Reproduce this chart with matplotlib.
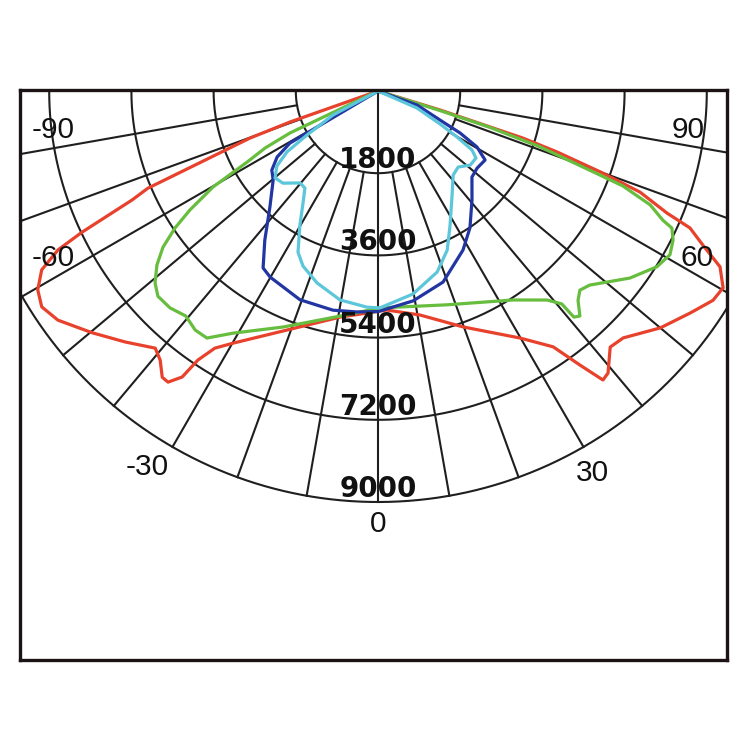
import numpy as np
import matplotlib
matplotlib.use("Agg")
import matplotlib.pyplot as plt

# ---------------- data (angle in degrees from nadir, + to the right; intensity in cd) ----------
ring_values = [1800, 3600, 5400, 7200, 9000]
ring_labels = ["1800", "3600", "5400", "7200", "9000"]
spoke_angles = list(range(-80, 90, 10))
angle_labels = ["-90", "-60", "-30", "0", "30", "60", "90"]

red_angle = [-73, -70.6, -69.8, -67.1, -66.1, -64.5, -63.6, -62.0, -59.7, -57.3, -54.4,
             -49.8, -45.2, -40.9, -39.0, -37.0, -35.8, -34.4, -33.8, -32.4, -29.9, -18.3,
             -9.5, 2.3, 10.6, 19.8, 29.9, 34.4, 36.4, 37.9, 39.2, 42.2, 44.8, 50.0, 54.6,
             58.0, 60.3, 62.8, 64.6, 66.3, 67.1, 68.9, 70.0, 71.2, 72.0, 72.2, 73.0, 73]
red_cd = [0, 2040, 2990, 5470, 5890, 7180, 7820, 8340, 8630, 8750, 8620,
          8200, 7800, 7450, 7580, 7850, 7860, 7590, 7090, 6670, 6370, 5440,
          5020, 4800, 4990, 5490, 6240, 6790, 7460, 8020, 7970, 7570, 7620, 8070, 8390,
          8650, 8700, 8420, 7880, 7460, 6870, 6150, 5180, 4140, 3340, 2580, 1420, 0]

green_angle = [-66, -64.5, -63.2, -61.5, -59.8, -57.7, -56.0, -54.0, -51.8, -49.3, -47.0,
               -43.8, -40.5, -37.4, -34.7, -30.9, -21.9, -9.6, 0.5, 17.9, 32.9, 39.0,
               40.8, 40.9, 41.9, 43.7, 45.4, 47.5, 53.4, 57.8, 60.7, 63.2, 65.0, 65.6,
               67.3, 68.8, 69.3, 71.0, 72.0, 72.5, 72.5]
green_cd = [0, 2140, 2770, 3260, 4180, 4870, 5360, 5820, 6160, 6440, 6590,
            6580, 6480, 6590, 6580, 6180, 5570, 5000, 4750, 4920, 5450, 5890,
            6160, 6550, 6620, 6340, 6210, 6290, 6870, 7220, 7330, 7240, 7100, 6850,
            6460, 5750, 5150, 3740, 2560, 1420, 0]

blue_angle = [-60, -59.4, -56.8, -53.3, -49.7, -43.0, -37.2, -33.0, -30.1, -20.5, -11.6,
              -5.4, 0, 9.5, 18.8, 28.1, 33.9, 40.8, 47.5, 52.1, 57.2, 60.5, 62.9, 64.9,
              70.2, 70]
blue_cd = [0, 2240, 2640, 2900, 3010, 3470, 4100, 4620, 4710, 4880, 4900,
           4860, 4830, 4660, 4420, 3950, 3610, 3150, 2790, 2750, 2790, 2490, 2020, 1500,
           910, 0]

cyan_angle = [-62, -61.9, -58.2, -56.2, -53.4, -49.8, -45.9, -40.3, -37.0, -34.0, -30.2,
              -26.4, -23.2, -17.6, -10.3, -2.9, 0.5, 9.8, 18.1, 23.5, 28.3, 35.4, 41.8,
              46.5, 51.2, 55.6, 57.9, 59.8, 62.0, 66.4, 66]
cyan_cd = [0, 1120, 1830, 2400, 2760, 2950, 2900, 2640, 2660, 2930, 3400,
           3940, 4170, 4410, 4650, 4740, 4750, 4510, 4170, 3800, 3330, 2800, 2470,
           2420, 2590, 2600, 2430, 2000, 1540, 930, 0]

# ---------------- layout ----------------
W = H = 750
k = 9000 / 411.0          # cd per pixel
cx, cy = 378, 91          # polar centre in pixels
fl, fr, ft, fb = 20, 727, 90, 660

fig = plt.figure(figsize=(7.5, 7.5), dpi=100)
ax = fig.add_axes([fl / W, (H - fb) / H, (fr - fl) / W, (fb - ft) / H])
ax.set_xlim((fl - cx) * k, (fr - cx) * k)
ax.set_ylim((cy - fb) * k, (cy - ft) * k)
ax.set_xticks([])
ax.set_yticks([])
for s in ax.spines.values():
    s.set_linewidth(2.4)
    s.set_color("#1c1414")
    s.set_zorder(10)


def pol(ang, r):
    a = np.radians(np.asarray(ang, dtype=float))
    r = np.asarray(r, dtype=float)
    return r * np.sin(a), -r * np.cos(a)


grid_c = "#1f1f1f"
grid_lw = 1.5
th = np.linspace(-90, 90, 400)
for rv in ring_values:
    x, y = pol(th, np.full_like(th, rv))
    ax.plot(x, y, color=grid_c, lw=grid_lw, zorder=1)
for a in spoke_angles:
    r0 = 0 if a == 0 else ring_values[0]
    x, y = pol([a, a], [r0, ring_values[-1]])
    ax.plot(x, y, color=grid_c, lw=grid_lw, zorder=1)

curve_lw = 2.3
for angs, vals, col in [(red_angle, red_cd, "#e8412c"),
                        (green_angle, green_cd, "#67bd3d"),
                        (blue_angle, blue_cd, "#2236a3"),
                        (cyan_angle, cyan_cd, "#5cc6da")]:
    x, y = pol(angs, vals)
    ax.plot(x, y, color=col, lw=curve_lw, zorder=3, solid_joinstyle="round",
            solid_capstyle="round")

# ring labels
for rv, lab in zip(ring_values, ring_labels):
    x, y = pol(0, rv - 13 * k)
    ax.text(x, y, lab, ha="center", va="center", fontsize=20, fontweight="bold",
            family="DejaVu Sans", color="#111111", zorder=5)

# angle labels
label_pos = [(-83.2, 7160), (-62.8, 8000), (-31.6, 9660), (0, 9480),
             (29.3, 9590), (62.4, 7880), (82.8, 6840)]
for (a, r), lab in zip(label_pos, angle_labels):
    x, y = pol(a, r)
    ax.text(x, y, lab, ha="center", va="center", fontsize=21.5,
            family="Liberation Sans", color="#111111", zorder=5)

fig.savefig("out.png", dpi=100, facecolor="white")
